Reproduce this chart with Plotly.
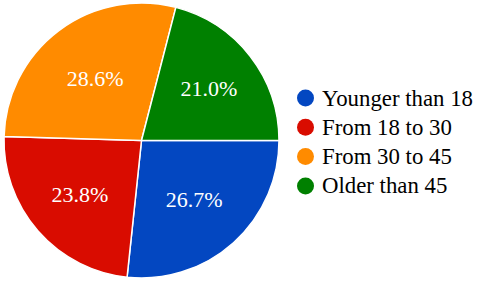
import plotly.graph_objects as go

labels = ["Younger than 18", "From 18 to 30", "From 30 to 45", "Older than 45"]
values = [26.7, 23.8, 28.6, 21.0]
colors = ["#0347C1", "#D90C00", "#FF8B00", "#008000"]

FONT = "Liberation Serif"
W, H = 478, 281
fig = go.Figure()
fig.add_trace(go.Pie(
    labels=labels, values=values, sort=False, direction="clockwise", rotation=90,
    marker=dict(colors=colors, line=dict(color="white", width=1.5)),
    texttemplate="%{value:.1f}%", textposition="inside", insidetextorientation="horizontal",
    textfont=dict(family=FONT, size=22, color="white"),
    showlegend=False, hoverinfo="label+percent",
    domain=dict(x=[4 / W, 279 / W], y=[3 / H, 278 / H]),
))

# legend drawn as circles + text (circle markers as in the reference)
row_gap = 29.3
y0 = 98
for i, (lab, col) in enumerate(zip(labels, colors)):
    yc = y0 + i * row_gap
    r = 8.5
    fig.add_shape(type="circle", xref="paper", yref="paper",
                  x0=(305.5 - r) / W, x1=(305.5 + r) / W,
                  y0=1 - (yc + r) / H, y1=1 - (yc - r) / H,
                  fillcolor=col, line=dict(width=0))
    fig.add_annotation(x=320 / W, y=1 - yc / H, xref="paper", yref="paper",
                       xanchor="left", yanchor="middle", showarrow=False, text=lab,
                       font=dict(family=FONT, size=22.8, color="black"))

fig.update_layout(
    width=W, height=H, margin=dict(l=0, r=0, t=0, b=0),
    paper_bgcolor="white", plot_bgcolor="white",
    font=dict(family=FONT, size=22, color="black"),
    showlegend=False,
)
fig.write_html("out.html")
